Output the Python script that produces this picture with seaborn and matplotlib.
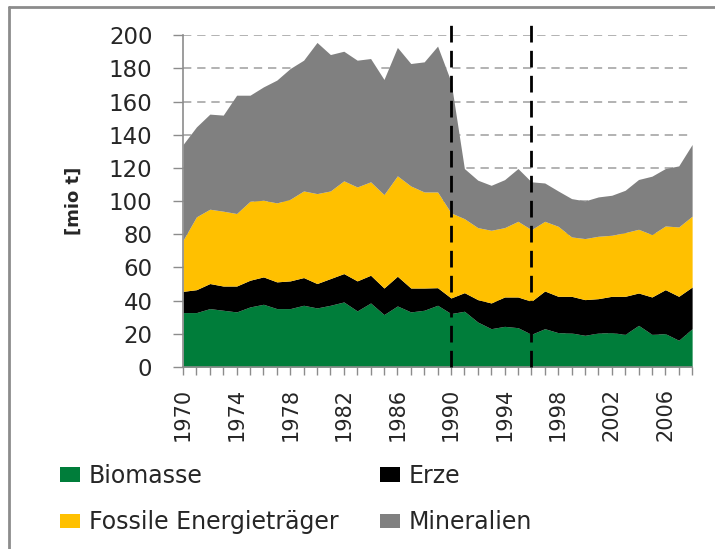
import matplotlib
matplotlib.use("Agg")
import matplotlib.pyplot as plt
from matplotlib.patches import Patch
from matplotlib.lines import Line2D
import seaborn as sns
import pandas as pd

# Values (mio t), 1970-2008
years = list(range(1970, 2009))
biomasse = [32.8, 32.8, 35.2, 34.2, 33.2, 36.2, 37.8, 35.2, 35.2, 37.2,
            35.6, 37.2, 39.2, 33.8, 38.6, 31.6, 36.8, 33.2, 34.2, 37.2,
            32.2, 33.6, 27.1, 23.1, 24.5, 23.7, 19.7, 23.1, 20.7, 20.5,
            19.1, 20.5, 20.7, 19.7, 25.1, 19.7, 20.1, 16.1, 23.1]
erze = [12.8, 13.8, 15.1, 14.6, 15.6, 16.1, 16.5, 16.1, 16.7, 16.7,
        14.7, 16.1, 17.1, 18.1, 16.7, 16.0, 17.9, 14.4, 13.4, 10.6,
        9.4, 11.2, 13.5, 15.5, 17.7, 18.5, 19.9, 22.7, 21.9, 22.1,
        21.5, 20.7, 21.9, 22.9, 19.5, 22.5, 26.5, 26.5, 25.1]
fossile = [30.8, 43.9, 44.8, 45.1, 43.7, 47.6, 46.2, 47.6, 49.2, 52.2,
           54.2, 52.8, 55.9, 56.6, 56.3, 56.3, 60.5, 61.5, 57.9, 57.7,
           51.3, 44.6, 43.4, 43.8, 41.8, 45.6, 43.2, 42.0, 42.2, 35.8,
           36.8, 37.6, 36.8, 38.4, 38.4, 37.6, 38.4, 41.8, 42.7]
mineralien = [57.7, 54.2, 57.3, 57.9, 71.3, 63.9, 68.3, 74.0, 78.8, 78.8,
              91.1, 82.2, 78.1, 76.4, 74.3, 69.4, 77.4, 73.8, 78.4, 87.9,
              79.1, 30.2, 28.6, 27.1, 28.9, 31.8, 28.8, 23.1, 21.3, 23.1,
              22.7, 23.7, 24.1, 25.5, 30.0, 35.2, 34.6, 36.8, 43.2]
labels = ["Biomasse", "Erze", "Fossile Energieträger", "Mineralien"]
colors = ["#007D3A", "#000000", "#FFC000", "#808080"]
marker_years = [1990, 1996]

df = pd.DataFrame({"Jahr": years, "Biomasse": biomasse, "Erze": erze,
                   "Fossile Energieträger": fossile, "Mineralien": mineralien})

sns.set_style("white")
plt.rcParams["font.family"] = ["DejaVu Sans"]
plt.rcParams["text.color"] = "#262626"

fig = plt.figure(figsize=(7.15, 5.49), dpi=100)
ax = fig.add_axes([0.256, 0.3315, 0.712, 0.6045])

ax.stackplot(df["Jahr"], [df[c] for c in labels], colors=colors, linewidth=0)

# dashed grid
ax.set_ylim(0, 200)
ax.set_xlim(1970, 2008)
ax.set_yticks(range(0, 201, 20))
for y in range(20, 201, 20):
    ax.axhline(y, color="#A6A6A6", lw=1.2, ls=(0, (5, 3.5)), zorder=0.5)

# vertical markers
for yr in marker_years:
    ax.plot([yr, yr], [0, 208], color="black", lw=2, ls=(0, (6, 3)),
            clip_on=False, zorder=5)

sns.despine(ax=ax, top=True, right=True)
for side in ["left", "bottom"]:
    ax.spines[side].set_color("#8C8C8C")
    ax.spines[side].set_linewidth(1.2)

ax.set_xticks(years)
ax.set_xticklabels([str(y) if (y - 1970) % 4 == 0 else "" for y in years],
                   rotation=90)
ax.tick_params(axis="x", direction="out", length=6, width=1, color="#8C8C8C",
               labelsize=15, pad=9, bottom=True, labelcolor="#262626")
ax.tick_params(axis="y", direction="out", length=7, width=1, color="#8C8C8C",
               labelsize=16.5, pad=15, left=True, labelcolor="#262626")
ax.set_ylabel("[mio t]", fontsize=13, fontweight="bold")
ax.yaxis.set_label_coords(-0.196, 0.5)
ax.set_xlabel("")

handles = [Patch(facecolor=c, edgecolor="none") for c in colors]
order = [0, 2, 1, 3]
fig.legend([handles[i] for i in order], [labels[i] for i in order],
           ncol=2, loc="upper left", bbox_to_anchor=(60 / 715, 0.155),
           frameon=False, fontsize=17, handlelength=0.85, handleheight=0.59,
           handletextpad=0.38, columnspacing=1.74, labelspacing=0.95,
           borderpad=0, borderaxespad=0)

# outer frame (top and left visible)
fig.add_artist(Line2D([9 / 715, 9 / 715], [0, 1 - 7 / 549],
                      transform=fig.transFigure, color="#8C8C8C", lw=2))
fig.add_artist(Line2D([9 / 715, 1], [1 - 7 / 549, 1 - 7 / 549],
                      transform=fig.transFigure, color="#8C8C8C", lw=2))

fig.savefig("out.png", dpi=100)
